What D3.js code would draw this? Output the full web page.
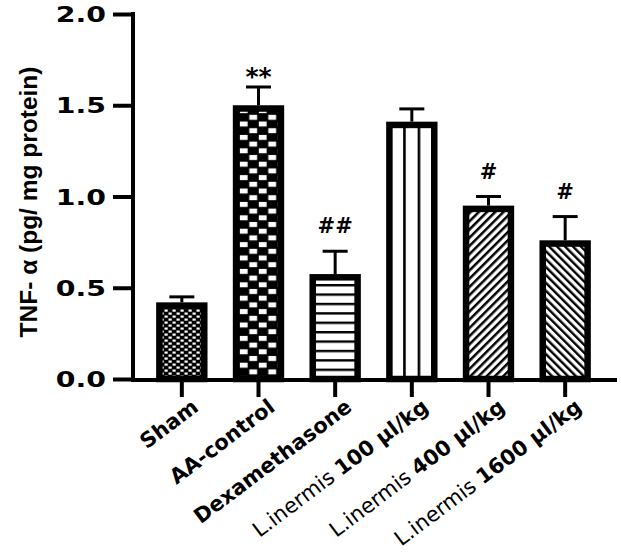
<!DOCTYPE html>
<html>
<head>
<meta charset="utf-8">
<script src="https://cdn.jsdelivr.net/npm/d3@7"></script>
<style>
  html, body { margin: 0; padding: 0; background: #fff; }
  svg { display: block; }
</style>
</head>
<body>
<svg id="chart" width="621" height="557"></svg>
<script>
// ---- data ----
const categories = ["Sham", "AA-control", "Dexamethasone", "L100", "L400", "L1600"];
const labelPlain = ["", "", "", "L.inermis ", "L.inermis ", "L.inermis "];
const labelBold = ["Sham", "AA-control", "Dexamethasone", "100 µl/kg", "400 µl/kg", "1600 µl/kg"];
const means = [0.42, 1.50, 0.575, 1.41, 0.95, 0.76];
const sems = [0.03, 0.10, 0.125, 0.07, 0.05, 0.13];
const marks = ["", "**", "##", "", "#", "#"];
const patternIds = ["pSham", "pAA", "pDex", "pL100", "pL400", "pL1600"];
const yTicks = [0, 0.5, 1.0, 1.5, 2.0];
const yLabel = "TNF- α (pg/ mg protein)";

// ---- scales ----
const svg = d3.select("#chart");
const x = d3.scaleBand().domain(categories).range([143.5, 603.5]).paddingInner(0.33).paddingOuter(0.165);
const y = d3.scaleLinear().domain([0, 2]).range([379, 14]);
const axisX0 = 133, axisX1 = 617;

// ---- patterns ----
const defs = svg.append("defs");
// fine checker
let p = defs.append("pattern").attr("id", "pSham").attr("patternUnits", "userSpaceOnUse")
  .attr("width", 8).attr("height", 6);
p.append("rect").attr("width", 8).attr("height", 6).attr("fill", "#000");
p.append("rect").attr("x", 0.5).attr("y", 0.5).attr("width", 3.2).attr("height", 2.2).attr("fill", "#fff");
p.append("rect").attr("x", 4.5).attr("y", 3.5).attr("width", 3.2).attr("height", 2.2).attr("fill", "#fff");
// coarse checker
p = defs.append("pattern").attr("id", "pAA").attr("patternUnits", "userSpaceOnUse")
  .attr("x", x("AA-control") + 6).attr("y", 0)
  .attr("width", 19).attr("height", 13.4);
p.append("rect").attr("width", 19).attr("height", 13.4).attr("fill", "#000");
p.append("rect").attr("x", 1).attr("y", 0.9).attr("width", 7.8).attr("height", 5).attr("fill", "#fff");
p.append("rect").attr("x", 10.5).attr("y", 7.6).attr("width", 7.8).attr("height", 5).attr("fill", "#fff");
// horizontal lines
p = defs.append("pattern").attr("id", "pDex").attr("patternUnits", "userSpaceOnUse")
  .attr("width", 10).attr("height", 9.4).attr("y", 2);
p.append("rect").attr("width", 10).attr("height", 9.4).attr("fill", "#fff");
p.append("rect").attr("y", 0).attr("width", 10).attr("height", 2.4).attr("fill", "#000");
// vertical lines
p = defs.append("pattern").attr("id", "pL100").attr("patternUnits", "userSpaceOnUse")
  .attr("x", x("L100") + 17).attr("width", 14.5).attr("height", 10);
p.append("rect").attr("width", 14.5).attr("height", 10).attr("fill", "#fff");
p.append("rect").attr("x", 0).attr("width", 2.6).attr("height", 10).attr("fill", "#000");
// diagonal /
p = defs.append("pattern").attr("id", "pL400").attr("patternUnits", "userSpaceOnUse")
  .attr("width", 5.8).attr("height", 10).attr("patternTransform", "rotate(45)");
p.append("rect").attr("width", 5.8).attr("height", 10).attr("fill", "#fff");
p.append("rect").attr("width", 2.5).attr("height", 10).attr("fill", "#000");
// diagonal \
p = defs.append("pattern").attr("id", "pL1600").attr("patternUnits", "userSpaceOnUse")
  .attr("width", 5.6).attr("height", 10).attr("patternTransform", "rotate(-45)");
p.append("rect").attr("width", 5.6).attr("height", 10).attr("fill", "#fff");
p.append("rect").attr("width", 2.4).attr("height", 10).attr("fill", "#000");

// ---- bars ----
const bw = x.bandwidth();
const sw = 6.5;
const bars = svg.append("g");
categories.forEach((c, i) => {
  bars.append("rect")
    .attr("x", x(c) + sw / 2)
    .attr("y", y(means[i]) + sw / 2)
    .attr("width", bw - sw)
    .attr("height", y(0) - y(means[i]) - sw / 2)
    .attr("fill", `url(#${patternIds[i]})`)
    .attr("stroke", "#000")
    .attr("stroke-width", sw);
});

// ---- error bars ----
const eb = svg.append("g").attr("stroke", "#000").attr("stroke-width", 3);
categories.forEach((c, i) => {
  const cx = x(c) + bw / 2;
  eb.append("line").attr("x1", cx).attr("x2", cx)
    .attr("y1", y(means[i])).attr("y2", y(means[i] + sems[i]));
  eb.append("line").attr("x1", cx - 12.5).attr("x2", cx + 12.5)
    .attr("y1", y(means[i] + sems[i])).attr("y2", y(means[i] + sems[i]));
});

// ---- significance marks ----
categories.forEach((c, i) => {
  if (!marks[i]) return;
  const cx = x(c) + bw / 2;
  const isStar = marks[i].includes("*");
  svg.append("text")
    .attr("x", cx).attr("y", y(means[i] + sems[i]) - (isStar ? 2 : 18))
    .attr("text-anchor", "middle")
    .attr("font-family", "DejaVu Sans").attr("font-weight", "bold")
    .attr("font-size", isStar ? 25 : 21)
    .text(marks[i]);
});

// ---- axes ----
const yAxis = svg.append("g").attr("transform", `translate(${axisX0},0)`)
  .call(d3.axisLeft(y).tickValues(yTicks).tickFormat(d3.format(".1f")).tickSize(20).tickSizeOuter(0));
yAxis.select(".domain").remove();
yAxis.selectAll(".tick line").attr("stroke", "#000").attr("stroke-width", 4);
yAxis.selectAll(".tick text")
  .attr("x", 0).attr("dy", "0.36em")
  .attr("transform", "translate(-27,0) scale(1.35,1)")
  .attr("text-anchor", "end")
  .attr("font-family", "DejaVu Sans").attr("font-weight", "bold").attr("font-size", 21)
  .attr("fill", "#000");
svg.append("line").attr("x1", axisX0).attr("x2", axisX0).attr("y1", y(2) - 2).attr("y2", y(0) + 2)
  .attr("stroke", "#000").attr("stroke-width", 4);
svg.append("line").attr("x1", axisX0 - 2).attr("x2", axisX1).attr("y1", y(0) + 1).attr("y2", y(0) + 1)
  .attr("stroke", "#000").attr("stroke-width", 4);

const xAxis = svg.append("g").attr("transform", `translate(0,${y(0)})`)
  .call(d3.axisBottom(x).tickSize(18).tickSizeOuter(0).tickFormat(""));
xAxis.select(".domain").remove();
xAxis.selectAll(".tick line").attr("stroke", "#000").attr("stroke-width", 4);

// category labels
categories.forEach((c, i) => {
  const cx = x(c) + bw / 2;
  const t = svg.append("text")
    .attr("transform", `translate(${cx + 9},${398}) rotate(-37)`)
    .attr("text-anchor", "end")
    .attr("dy", "0.7em")
    .attr("font-family", "DejaVu Sans").attr("font-size", 21).attr("fill", "#000");
  if (labelPlain[i]) t.append("tspan").attr("font-weight", "normal").text(labelPlain[i]);
  t.append("tspan").attr("font-weight", "bold").text(labelBold[i]);
});

// y label
svg.append("text")
  .attr("transform", "translate(37,202) rotate(-90)")
  .attr("text-anchor", "middle")
  .attr("font-family", "Liberation Sans").attr("font-weight", "bold").attr("font-size", 24.5)
  .text(yLabel);
</script>
</body>
</html>
